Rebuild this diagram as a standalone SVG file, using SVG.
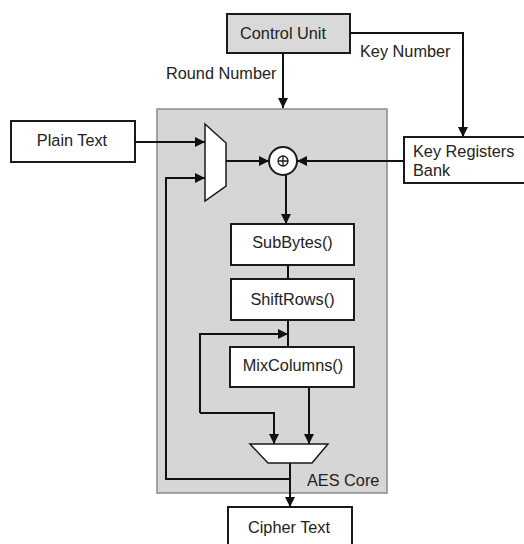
<svg xmlns="http://www.w3.org/2000/svg" width="524" height="544" viewBox="0 0 524 544">
<defs>
<style>
.t{font-family:"Liberation Sans",Arial,sans-serif;font-size:16.3px;fill:#222}
.box{fill:#fff;stroke:#1a1a1a;stroke-width:2}
.ln{fill:none;stroke:#111;stroke-width:2}
</style>
<marker id="ah" viewBox="0 0 10 10" refX="10" refY="5" markerWidth="10" markerHeight="10" markerUnits="userSpaceOnUse" orient="auto">
<path d="M0,0 L10,5 L0,10 Z" fill="#111"/>
</marker>
</defs>
<rect width="524" height="544" fill="#fff"/>
<g id="aes-core">
<rect x="157" y="109" width="230" height="384" fill="#d6d6d6" stroke="#8a8a8a" stroke-width="1.5"/>
<text class="t" x="307" y="486">AES Core</text>
</g>
<g id="control-unit">
<rect x="227" y="14" width="123" height="39" fill="#d9d9d9" stroke="#1a1a1a" stroke-width="2"/>
<text class="t" x="283" y="39" text-anchor="middle">Control Unit</text>
</g>
<g id="plain-text">
<rect class="box" x="11" y="121" width="124" height="41"/>
<text class="t" x="72" y="146" text-anchor="middle">Plain Text</text>
</g>
<g id="key-registers">
<rect class="box" x="404" y="137" width="124" height="46"/>
<text class="t" x="413" y="157">Key Registers</text>
<text class="t" x="413" y="176">Bank</text>
</g>
<g id="mux1">
<polygon points="205,124 226,143 226,186 205,201" fill="#fff" stroke="#1a1a1a" stroke-width="1.5"/>
</g>
<g id="xor">
<circle cx="283" cy="161" r="14" fill="#fff" stroke="#1a1a1a" stroke-width="2"/>
<circle cx="283" cy="161" r="5" fill="none" stroke="#1a1a1a" stroke-width="1.3"/>
<path d="M278,161 H288 M283,156 V166" stroke="#1a1a1a" stroke-width="1.3"/>
</g>
<g id="subbytes">
<rect class="box" x="231" y="224" width="123" height="41"/>
<text class="t" x="292.5" y="248" text-anchor="middle">SubBytes()</text>
</g>
<g id="shiftrows">
<rect class="box" x="231" y="279" width="123" height="41"/>
<text class="t" x="292.5" y="305" text-anchor="middle">ShiftRows()</text>
</g>
<g id="mixcolumns">
<rect class="box" x="230" y="347" width="124" height="40"/>
<text class="t" x="293" y="371" text-anchor="middle">MixColumns()</text>
</g>
<g id="mux2">
<polygon points="250,444 328,444 312,463 268,463" fill="#fff" stroke="#1a1a1a" stroke-width="1.5"/>
</g>
<g id="cipher-text">
<rect class="box" x="228" y="507" width="124" height="45"/>
<text class="t" x="289" y="533" text-anchor="middle">Cipher Text</text>
</g>
<g id="connectors">
<path class="ln" d="M283,53 V108" marker-end="url(#ah)"/>
<text class="t" x="166" y="79">Round Number</text>
<path class="ln" d="M350,33 H463 V137" marker-end="url(#ah)"/>
<text class="t" x="360" y="57">Key Number</text>
<path class="ln" d="M135,142 H205" marker-end="url(#ah)"/>
<path class="ln" d="M226,161 H269" marker-end="url(#ah)"/>
<path class="ln" d="M404,161 H297" marker-end="url(#ah)"/>
<path class="ln" d="M286,175 V224" marker-end="url(#ah)"/>
<path class="ln" d="M288,265 V279"/>
<path class="ln" d="M288,320 V347"/>
<path class="ln" d="M200,413 V334 H288" marker-end="url(#ah)"/>
<path class="ln" d="M200,413 H274 V444" marker-end="url(#ah)"/>
<path class="ln" d="M309,387 V444" marker-end="url(#ah)"/>
<path class="ln" d="M290,463 V507" marker-end="url(#ah)"/>
<path class="ln" d="M290,479 H166 V178 H205" marker-end="url(#ah)"/>
</g>
</svg>
